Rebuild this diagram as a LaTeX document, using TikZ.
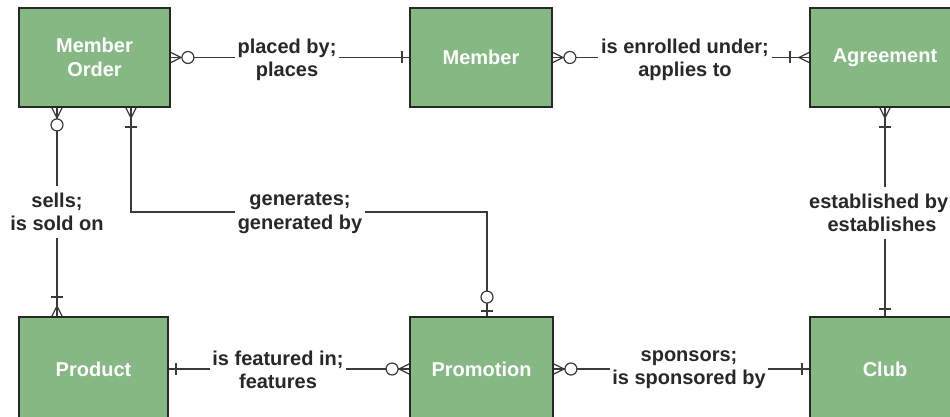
\documentclass[tikz,border=0pt]{standalone}
\usepackage{fontspec}
\setmainfont{Liberation Sans}
\usetikzlibrary{calc}

\definecolor{entgreen}{RGB}{134,184,132}
\definecolor{edgegray}{RGB}{40,40,40}
\definecolor{ink}{RGB}{40,40,40}
\definecolor{wire}{RGB}{58,58,58}

\tikzset{
  x=0.75pt, y=-0.75pt,
  txt/.style={font=\bfseries\fontsize{15}{17.5}\selectfont, align=center},
  entity/.style={txt, draw=edgegray, line width=1.4pt, fill=entgreen,
                 text=white, inner sep=0pt},
  rel/.style={txt, fill=white, text=ink, inner xsep=2pt, inner ysep=1pt},
  vrel/.style={rel, inner ysep=5pt},
  wirestyle/.style={draw=wire, line width=0.9pt},
  % cardinality marks: origin on the entity border, +x pointing away from it
  zmany/.pic={\draw[wirestyle] (0,-5) -- (10,0) -- (0,5);
              \draw[wirestyle, fill=white] (17,0) circle[radius=4.5pt];},
  omany/.pic={\draw[wirestyle] (0,-5) -- (10,0) -- (0,5);
              \draw[wirestyle] (19,-6) -- (19,6);},
  onebar/.pic={\draw[wirestyle] (7,-6) -- (7,6);},
  zone/.pic={\draw[wirestyle] (5,-6) -- (5,6);
             \draw[wirestyle, fill=white] (19,0) circle[radius=4.5pt];}
}

\begin{document}
\begin{tikzpicture}
\useasboundingbox (0,0) rectangle (950,417);
\clip (0,0) rectangle (950,417);

% entities
\node[entity, minimum width=113.25pt, minimum height=74.25pt] (mo)    at (94.5,57.5) {Member\\Order};
\node[entity, minimum width=106.5pt,  minimum height=74.25pt] (mem)   at (481,57.5)  {Member};
\node[entity, minimum width=112.5pt,  minimum height=74.25pt] (agr)   at (885,57.5)  {Agreement};
\node[entity, minimum width=111.75pt, minimum height=78pt]    (prod)  at (93.5,369)  {Product};
\node[entity, minimum width=107.25pt, minimum height=78pt]    (promo) at (481.5,369) {Promotion};
\node[entity, minimum width=112.5pt,  minimum height=78pt]    (club)  at (885,369)   {Club};

% routing points
\coordinate (sellx) at (57,0);
\coordinate (genA) at (131,212);
\coordinate (genB) at (487,212);

% relationship lines
\draw[wirestyle] (mo.east) -- (mem.west);
\draw[wirestyle] (mem.east) -- (agr.west);
\draw[wirestyle] (agr.south) -- (club.north);
\draw[wirestyle] (prod.east) -- (promo.west);
\draw[wirestyle] (promo.east) -- (club.west);
\draw[wirestyle] (mo.south -| sellx) -- (prod.north -| sellx);
\draw[wirestyle] (mo.south -| genA) -- (genA) -- (genB) -- (promo.north -| genB);

% cardinalities
\pic at (mo.east) {zmany};
\pic[rotate=180] at (mem.west) {onebar};
\pic at (mem.east) {zmany};
\pic[rotate=180] at (agr.west) {omany};
\pic[rotate=-90] at (agr.south) {omany};
\pic[rotate=90] at (club.north) {onebar};
\pic[rotate=-90] at (mo.south -| sellx) {zmany};
\pic[rotate=90] at (prod.north -| sellx) {omany};
\pic[rotate=-90] at (mo.south -| genA) {omany};
\pic[rotate=90] at (promo.north -| genB) {zone};
\pic at (prod.east) {onebar};
\pic[rotate=180] at (promo.west) {zmany};
\pic at (promo.east) {zmany};
\pic[rotate=180] at (club.west) {onebar};

% relationship names
\node[rel]  (lplaced)   at (287,60)  {placed by;\\places};
\node[rel]  (lenrolled) at (685,60)  {is enrolled under;\\applies to};
\node[vrel] (lsells)    at (57,212)  {sells;\\is sold on};
\node[rel]  (lgen)      at (300,213) {generates;\\generated by};
\node[vrel] (lestab)    at (882,213) {established by;\\establishes};
\node[rel]  (lfeat)     at (278,370) {is featured in;\\features};
\node[rel]  (lspons)    at (689,370) {sponsors;\\is sponsored by};
\end{tikzpicture}
\end{document}
